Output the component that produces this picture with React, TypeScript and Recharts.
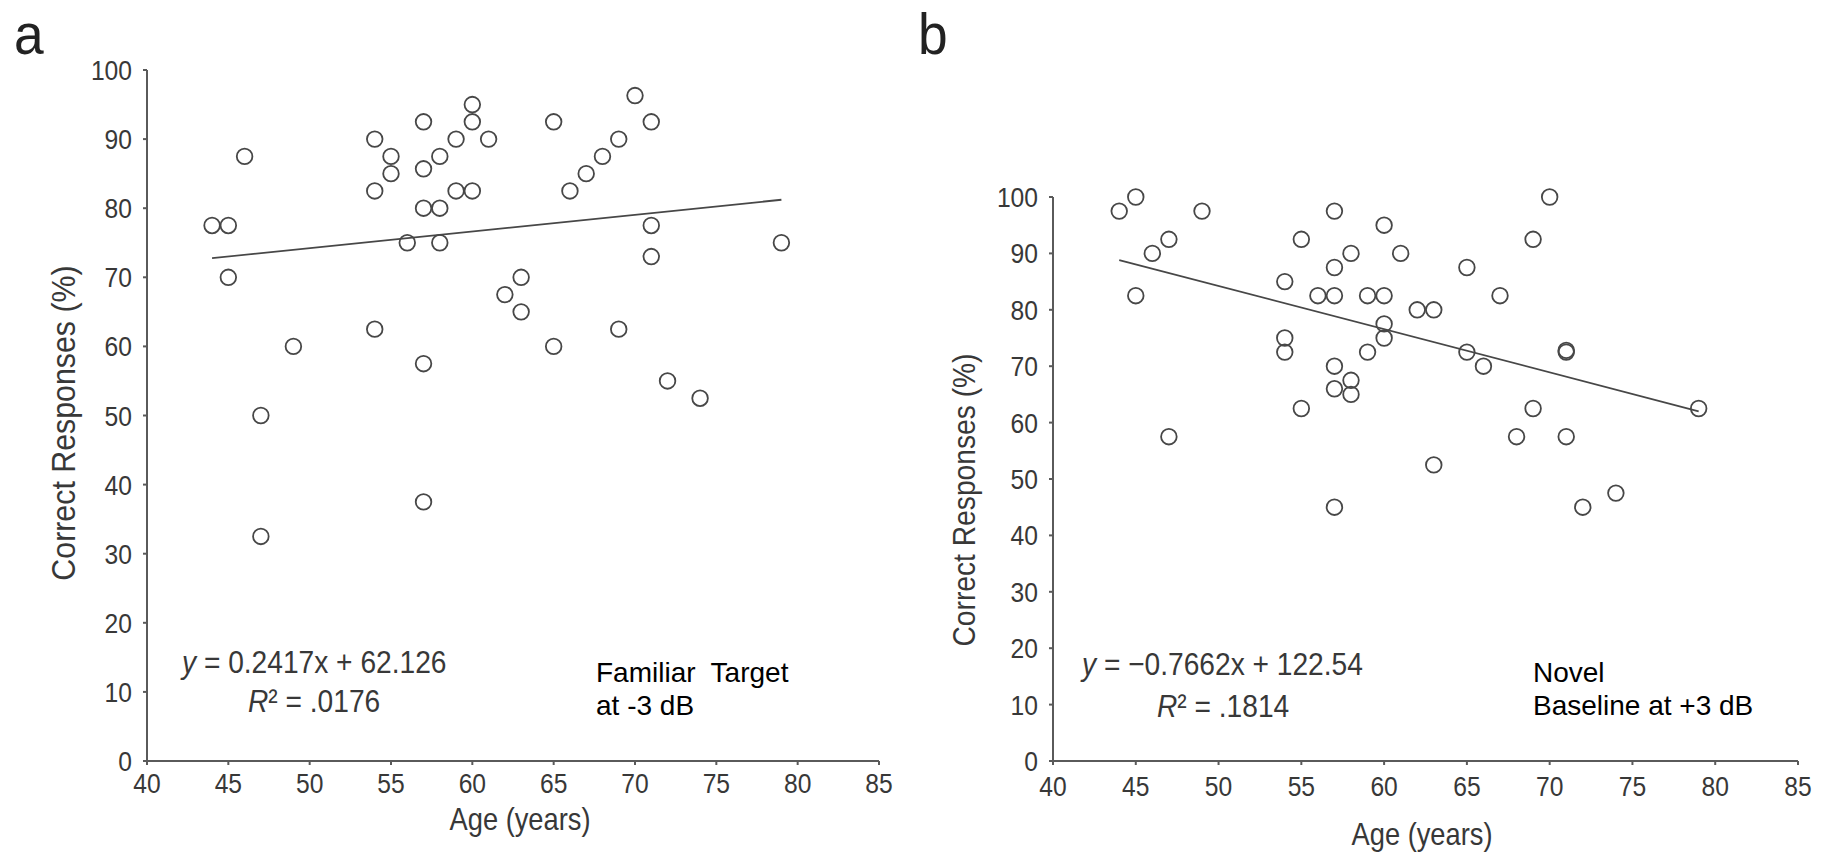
import React from 'react'
import { ScatterChart, Scatter, XAxis, YAxis, ReferenceLine } from 'recharts'

// shared axes
const AGE_TICKS = [40, 45, 50, 55, 60, 65, 70, 75, 80, 85]
const PCT_TICKS = [0, 10, 20, 30, 40, 50, 60, 70, 80, 90, 100]
const FIT_RANGE = [44, 79]

// a: familiar target at -3 dB
const familiarAges = [
  44, 45, 45, 46, 47, 47, 49, 54, 54, 54, 55, 55, 56, 57, 57, 57, 57, 57, 58, 58, 58, 59,
  59, 60, 60, 60, 61, 62, 63, 63, 65, 65, 66, 67, 68, 69, 69, 70, 71, 71, 71, 72, 74, 79,
]
const familiarScores = [
  77.5, 77.5, 70, 87.5, 50, 32.5, 60, 90, 82.5, 62.5, 87.5, 85, 75, 92.5, 85.7, 80, 57.5, 37.5,
  87.5, 80, 75, 90, 82.5, 95, 92.5, 82.5, 90, 67.5, 70, 65, 92.5, 60, 82.5, 85, 87.5, 90, 62.5,
  96.3, 92.5, 77.5, 73, 55, 52.5, 75,
]
const familiarFit = { slope: 0.2417, intercept: 62.126 }

// b: novel baseline at +3 dB
const novelAges = [
  44, 45, 45, 46, 47, 47, 49, 54, 54, 54, 55, 55, 56, 57, 57, 57, 57, 57, 57, 58, 58, 58, 59,
  59, 60, 60, 60, 60, 61, 62, 63, 63, 65, 65, 66, 67, 68, 69, 69, 70, 71, 71, 71, 72, 74, 79,
]
const novelScores = [
  97.5, 100, 82.5, 90, 92.5, 57.5, 97.5, 85, 75, 72.5, 92.5, 62.5, 82.5, 97.5, 87.5, 82.5, 70,
  66, 45, 90, 67.5, 65, 82.5, 72.5, 95, 82.5, 77.5, 75, 90, 80, 80, 52.5, 87.5, 72.5, 70, 82.5,
  57.5, 92.5, 62.5, 100, 72.5, 72.8, 57.5, 45, 47.5, 62.5,
]
const novelFit = { slope: -0.7662, intercept: 122.54 }

const INK = '#383838'
const MARK = '#474747'
const FONT = "'Liberation Sans', Arial, sans-serif"

function Narrow({ x, y, size, anchor = 'start', angle = 0, fill = INK, squeeze = 0.88, children }: any) {
  return (
    <text
      transform={`translate(${x},${y}) rotate(${angle}) scale(${squeeze},1)`}
      fontSize={size}
      textAnchor={anchor}
      fill={fill}
      fontFamily={FONT}
    >
      {children}
    </text>
  )
}

const XTick = ({ x, y, payload }: any) => (
  <Narrow x={x} y={y + 20} size={28} anchor="middle">{payload.value}</Narrow>
)

const YTick = ({ x, y, payload }: any) => (
  <Narrow x={x} y={y + 10} size={28} anchor="end">{payload.value}</Narrow>
)

const Ring = ({ cx, cy }: any) => (
  <circle cx={cx} cy={cy} r={7.8} fill="none" stroke={MARK} strokeWidth={1.8} />
)

function Panel({ ages, scores, fit, left, margin, yWidth, xGap }: any) {
  const points = ages.map((age: number, i: number) => ({ age, score: scores[i] }))
  const segment = FIT_RANGE.map((x) => ({ x, y: fit.slope * x + fit.intercept }))
  return (
    <div style={{ position: 'absolute', left, top: 0 }}>
      <ScatterChart width={920} height={852} margin={margin}>
        <XAxis
          dataKey="age"
          type="number"
          domain={[40, 85]}
          ticks={AGE_TICKS}
          interval={0}
          height={60}
          tickSize={4}
          tickMargin={xGap}
          stroke="#5a5a5a"
          strokeWidth={2}
          tick={(p: any) => <XTick {...p} />}
        />
        <YAxis
          dataKey="score"
          type="number"
          domain={[0, 100]}
          ticks={PCT_TICKS}
          interval={0}
          width={yWidth}
          tickSize={4}
          tickMargin={11}
          stroke="#5a5a5a"
          strokeWidth={2}
          tick={(p: any) => <YTick {...p} />}
        />
        <ReferenceLine segment={segment} stroke={MARK} strokeWidth={1.8} />
        <Scatter data={points} shape={(p: any) => <Ring {...p} />} isAnimationActive={false} />
      </ScatterChart>
    </div>
  )
}

export default function App() {
  return (
    <div style={{ position: 'absolute', left: 0, top: 0, width: 1833, height: 852, background: '#fff', overflow: 'hidden' }}>
      <Panel
        ages={familiarAges}
        scores={familiarScores}
        fit={familiarFit}
        left={0}
        margin={{ top: 70, right: 41, bottom: 31, left: 0 }}
        yWidth={147}
        xGap={8}
      />
      <Panel
        ages={novelAges}
        scores={novelScores}
        fit={novelFit}
        left={913}
        margin={{ top: 197, right: 35, bottom: 31, left: 0 }}
        yWidth={140}
        xGap={11}
      />
      <svg width={1833} height={852} style={{ position: 'absolute', left: 0, top: 0, pointerEvents: 'none' }}>
        <Narrow x={14} y={54} size={58} fill="#222" squeeze={0.92}>a</Narrow>
        <Narrow x={918} y={54} size={58} fill="#222" squeeze={0.92}>b</Narrow>

        <Narrow x={64} y={423} size={33} anchor="middle" angle={-90} squeeze={0.92}>
          <tspan dy={11}>Correct Responses (%)</tspan>
        </Narrow>
        <Narrow x={964} y={500} size={31} anchor="middle" angle={-90} squeeze={0.91}>
          <tspan dy={11}>Correct Responses (%)</tspan>
        </Narrow>
        <Narrow x={520} y={830} size={31} anchor="middle">Age (years)</Narrow>
        <Narrow x={1422} y={845} size={31} anchor="middle">Age (years)</Narrow>

        <Narrow x={182} y={673} size={32}>
          <tspan fontStyle="italic">y</tspan> = 0.2417x + 62.126
        </Narrow>
        <Narrow x={248} y={712} size={32}>
          <tspan fontStyle="italic">R</tspan>² = .0176
        </Narrow>
        <Narrow x={1082} y={675} size={32}>
          <tspan fontStyle="italic">y</tspan> = −0.7662x + 122.54
        </Narrow>
        <Narrow x={1157} y={717} size={32}>
          <tspan fontStyle="italic">R</tspan>² = .1814
        </Narrow>

        <text x={596} y={682} fontSize={28} fontFamily={FONT} fill="#000" style={{ whiteSpace: 'pre' }}>Familiar  Target</text>
        <text x={596} y={715} fontSize={28} fontFamily={FONT} fill="#000">at -3 dB</text>
        <text x={1533} y={682} fontSize={28} fontFamily={FONT} fill="#000">Novel</text>
        <text x={1533} y={715} fontSize={28} fontFamily={FONT} fill="#000">Baseline at +3 dB</text>
      </svg>
    </div>
  )
}
